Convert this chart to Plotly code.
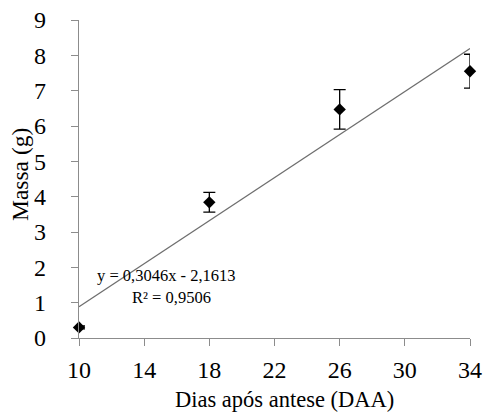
import plotly.graph_objects as go

days = [10, 18, 26, 34]
massa = [0.30, 3.84, 6.47, 7.55]
erro = [0.04, 0.28, 0.56, 0.48]
slope = 0.3046
intercept = -2.1613
x_ticks = [10, 14, 18, 22, 26, 30, 34]
y_ticks = [0, 1, 2, 3, 4, 5, 6, 7, 8, 9]

trend_x = [days[0], days[-1]]
trend_y = [slope * v + intercept for v in trend_x]

font = "Liberation Serif, serif"
W, H = 483, 415
L, R, T, B = 79, 13, 20, 77
pw, ph = W - L - R, H - T - B

fig = go.Figure()
fig.add_trace(go.Scatter(
    x=trend_x, y=trend_y, mode="lines",
    line=dict(color="#6e6e6e", width=1.3),
    showlegend=False, hoverinfo="skip",
))
fig.add_trace(go.Scatter(
    x=days, y=massa, mode="markers",
    marker=dict(symbol="diamond", size=9.5, color="black"),
    error_y=dict(type="data", array=erro, visible=True, color="black", thickness=1.3, width=6),
    showlegend=False, cliponaxis=False,
))

# equation (two lines, placed like the reference)
fig.add_annotation(
    x=(95 - L) / pw, y=(H - B - 275) / ph, xref="paper", yref="paper",
    xanchor="left", yanchor="middle",
    text="y = 0,3046x - 2,1613", showarrow=False,
    font=dict(family=font, size=16.5, color="black"),
)
fig.add_annotation(
    x=(130 - L) / pw, y=(H - B - 297) / ph, xref="paper", yref="paper",
    xanchor="left", yanchor="middle",
    text="R² = 0,9506", showarrow=False,
    font=dict(family=font, size=16.5, color="black"),
)
# axis titles
fig.add_annotation(
    x=(284 - L) / pw, y=(H - B - 399) / ph, xref="paper", yref="paper",
    xanchor="center", yanchor="middle",
    text="Dias após antese (DAA)", showarrow=False,
    font=dict(family=font, size=22.5, color="black"),
)
fig.add_annotation(
    x=(20 - L) / pw, y=(H - B - 175) / ph, xref="paper", yref="paper",
    xanchor="center", yanchor="middle", textangle=-90,
    text="Massa (g)", showarrow=False,
    font=dict(family=font, size=23.5, color="black"),
)

fig.update_layout(
    width=W, height=H,
    margin=dict(l=L, r=R, t=T, b=B),
    paper_bgcolor="white", plot_bgcolor="white",
    font=dict(family=font, color="black"),
)
fig.update_xaxes(
    range=[10, 34], tickvals=x_ticks, ticktext=[str(v) for v in x_ticks],
    showline=True, linecolor="#8c8c8c", linewidth=1.3,
    ticks="outside", tickcolor="#8c8c8c", ticklen=7,
    showgrid=False, zeroline=False, automargin=False,
    ticklabelstandoff=3,
    tickfont=dict(family=font, size=24, color="black"),
)
fig.update_yaxes(
    range=[0, 9], tickvals=y_ticks,
    showline=True, linecolor="#8c8c8c", linewidth=1.3,
    ticks="outside", tickcolor="#8c8c8c", ticklen=7,
    showgrid=False, zeroline=False, automargin=False,
    ticklabelstandoff=20,
    tickfont=dict(family=font, size=24, color="black"),
)

fig.write_html(
    "out.html",
    config={"displayModeBar": False},
    post_script="document.body.style.margin='0';document.body.style.overflow='hidden';",
)
